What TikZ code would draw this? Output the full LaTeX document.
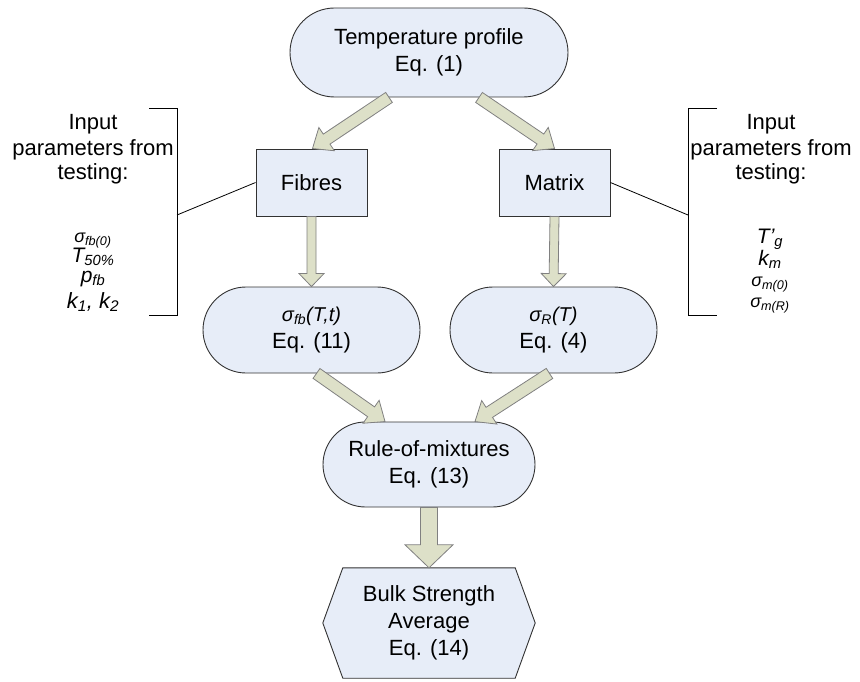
\documentclass[tikz,border=0pt]{standalone}
\usepackage{fontspec}
\setmainfont{Liberation Sans}
\usetikzlibrary{shapes.misc,calc,backgrounds}
\definecolor{nodefill}{RGB}{231,237,248}
\definecolor{arrowfill}{RGB}{221,224,200}
\definecolor{arrowline}{RGB}{128,128,128}
\definecolor{nodeline}{RGB}{50,50,50}
\newcommand\fatarrow[5]{%
  \path (#1) coordinate (fa-s) (#2) coordinate (fa-e);
  \coordinate (fa-h) at ($(fa-e)!#5!(fa-s)$);
  \draw[blockarrow] ($(fa-s)!#3!90:(fa-e)$) -- ($(fa-h)!#3!90:(fa-e)$) -- ($(fa-h)!#4!90:(fa-e)$)
    -- (fa-e) -- ($(fa-h)!#4!-90:(fa-e)$) -- ($(fa-h)!#3!-90:(fa-e)$) -- ($(fa-s)!#3!-90:(fa-e)$) -- cycle;}
\begin{document}
\begin{tikzpicture}[x=1pt,y=-1pt,
  box/.style={draw=nodeline, line width=0.9pt, fill=nodefill, inner sep=0pt, align=center, font=\fontsize{22}{27}\selectfont},
  pill/.style={box, rounded rectangle},
  rect/.style={box, rectangle},
  blockarrow/.style={draw=arrowline, fill=arrowfill, line width=0.8pt, line join=miter},
  bracket/.style={draw=black, line width=0.8pt},
  hdr/.style={font=\fontsize{22}{26}\selectfont, anchor=base, inner sep=0pt},
  parm/.style={anchor=base, inner sep=0pt}]
\useasboundingbox (0,0) rectangle (860,682);

% main nodes
\node[pill, minimum width=278pt, minimum height=89pt] (top) at (429,52.5) {Temperature profile\\Eq. (1)};
\node[rect, minimum width=111pt, minimum height=67pt] (fib) at (311.5,182.5) {Fibres};
\node[rect, minimum width=111pt, minimum height=67pt] (mat) at (554.5,182.5) {Matrix};
\node[pill, minimum width=217pt, minimum height=86pt] (sfb) at (311.5,330) {{\fontsize{20}{20}\selectfont\itshape σ\textsubscript{fb}(T,t)}\\Eq. (11)};
\node[pill, minimum width=207pt, minimum height=86pt] (sR) at (553.5,330) {{\fontsize{20}{20}\selectfont\itshape σ\textsubscript{R}(T)}\\Eq. (4)};
\node[pill, minimum width=212pt, minimum height=85pt] (rom) at (429,464.5) {Rule-of-mixtures\\Eq. (13)};
\node[inner sep=0pt, minimum width=212pt, minimum height=110pt, align=center, font=\fontsize{22}{27}\selectfont] (bulk) at (429,623) {Bulk Strength\\Average\\Eq. (14)};
\begin{scope}[on background layer]
\draw[draw=nodeline, line width=0.9pt, fill=nodefill] (bulk.west) -- ([xshift=20pt]bulk.north west) -- ([xshift=-20pt]bulk.north east) -- (bulk.east) -- ([xshift=-20pt]bulk.south east) -- ([xshift=20pt]bulk.south west) -- cycle;
\end{scope}

% block arrows
\fatarrow{[xshift=-40pt]top.south}{[xshift=1pt]fib.north}{6pt}{14pt}{17pt}
\fatarrow{[xshift=50pt]top.south}{mat.north}{6pt}{14pt}{17pt}
\fatarrow{fib.south}{sfb.north}{4.5pt}{12.5pt}{13pt}
\fatarrow{mat.south}{sR.north}{4.5pt}{12.5pt}{13pt}
\fatarrow{[xshift=5pt]sfb.south}{[xshift=-44pt]rom.north}{6pt}{14pt}{17pt}
\fatarrow{[xshift=-4pt]sR.south}{[xshift=46pt]rom.north}{6pt}{14pt}{17pt}
\fatarrow{rom.south}{bulk.north}{8.5pt}{24pt}{23pt}

% left bracket and texts
\draw[bracket] (149,108) -- (177,108) -- (177,315) -- (149,315);
\coordinate (lbr) at (177,215);
\draw[bracket] (lbr) -- (fib.west);
\node[hdr] (lh1) at (93,130) {Input};
\node[hdr] (lh2) at (93,156) {parameters from};
\node[hdr] (lh3) at (93,180) {testing:};
\node[parm, font=\fontsize{18}{18}\selectfont\itshape] (lp1) at (93,242) {σ\textsubscript{fb(0)}};
\node[parm, font=\fontsize{21}{21}\selectfont\itshape] (lp2) at (93,262) {T\textsubscript{50\%}};
\node[parm, font=\fontsize{21}{21}\selectfont\itshape] (lp3) at (93,282) {p\textsubscript{fb}};
\node[parm, font=\fontsize{22}{22}\selectfont\itshape] (lp4) at (93,308) {k\textsubscript{1}, k\textsubscript{2}};

% right bracket and texts
\draw[bracket] (717,108) -- (688,108) -- (688,315) -- (717,315);
\coordinate (rbr) at (688,215);
\draw[bracket] (rbr) -- (mat.east);
\node[hdr] (rh1) at (771,130) {Input};
\node[hdr] (rh2) at (771,156) {parameters from};
\node[hdr] (rh3) at (771,180) {testing:};
\node[parm, font=\fontsize{21}{21}\selectfont\itshape] (rp1) at (770,243) {T’\textsubscript{g}};
\node[parm, font=\fontsize{21}{21}\selectfont\itshape] (rp2) at (770,265) {k\textsubscript{m}};
\node[parm, font=\fontsize{18}{18}\selectfont\itshape] (rp3) at (770,286) {σ\textsubscript{m(0)}};
\node[parm, font=\fontsize{18}{18}\selectfont\itshape] (rp4) at (770,307) {σ\textsubscript{m(R)}};
\end{tikzpicture}
\end{document}
